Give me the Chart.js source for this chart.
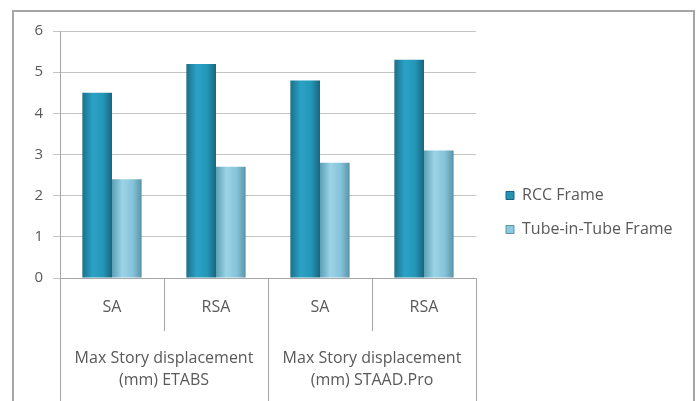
<!DOCTYPE html>
<html><head><meta charset="utf-8">
<script src="https://cdn.jsdelivr.net/npm/chart.js@4"></script>
<style>
html,body{margin:0;padding:0;background:#fff;overflow:hidden;}
#box{position:absolute;left:12px;top:10px;width:679px;height:400px;border:2px solid #a6a6a6;border-bottom:none;}
#box canvas{display:block;}
</style></head><body>
<div id="box"><canvas id="c" width="679" height="400"></canvas></div>
<script>
const subCategories = ['SA', 'RSA', 'SA', 'RSA'];
const groupLabels = [['Max Story displacement', '(mm) ETABS'], ['Max Story displacement', '(mm) STAAD.Pro']];
const seriesNames = ['RCC Frame', 'Tube-in-Tube Frame'];
const rccFrame = [4.5, 5.2, 4.8, 5.3];
const tubeInTube = [2.4, 2.7, 2.8, 3.1];
const yMin = 0, yMax = 6, yStep = 1;

const CAT_PCT = 0.57;
const FAMILY = "'Open Sans', sans-serif";
const TXT = '#595959';
const LINE = '#a6a6a6';

const palettes = [
  ['#1b6f8a', '#2aa3c6', '#2596b8', '#176680'],
  ['#5d9fb6', '#9ad3e6', '#86c4da', '#5a93a8']
];
const solid = ['#2591b3', '#8cc8de'];

function barGrad(dsIndex) {
  return (c) => {
    const chart = c.chart;
    const xs = chart.scales && chart.scales.x;
    if (!xs || c.dataIndex === undefined || !chart.chartArea) return solid[dsIndex];
    const center = xs.getPixelForValue(c.dataIndex);
    const catW = xs.width / subCategories.length;
    const half = catW * CAT_PCT / 2;
    const left = center - half + dsIndex * half;
    const g = chart.ctx.createLinearGradient(left, 0, left + half, 0);
    const p = palettes[dsIndex];
    g.addColorStop(0, p[0]);
    g.addColorStop(0.35, p[1]);
    g.addColorStop(0.7, p[2]);
    g.addColorStop(1, p[3]);
    return g;
  };
}

const legendNudge = {
  id: 'legendNudge',
  afterLayout(chart) {
    const lg = chart.legend;
    if (!lg) return;
    lg.left += 12;
    lg.right = chart.width;
    lg.width = lg.right - lg.left;
    lg.top -= 6;
    lg.bottom -= 6;
  }
};

new Chart(document.getElementById('c'), {
  type: 'bar',
  data: {
    labels: subCategories,
    datasets: [
      {label: seriesNames[0], data: rccFrame, backgroundColor: barGrad(0), borderWidth: 0},
      {label: seriesNames[1], data: tubeInTube, backgroundColor: barGrad(1), borderWidth: 0}
    ]
  },
  plugins: [legendNudge],
  options: {
    responsive: false,
    animation: false,
    devicePixelRatio: 1,
    layout: {padding: {top: 13, right: 63, left: 0, bottom: 0}},
    datasets: {bar: {categoryPercentage: CAT_PCT, barPercentage: 1}},
    plugins: {
      tooltip: {enabled: false},
      legend: {
        position: 'right',
        labels: {
          font: {family: FAMILY, size: 16},
          color: TXT,
          boxWidth: 8,
          boxHeight: 8,
          padding: 18,
          generateLabels: (chart) => {
            const items = Chart.defaults.plugins.legend.labels.generateLabels(chart);
            items.forEach((it, i) => { it.fillStyle = solid[i]; it.strokeStyle = palettes[i][3]; it.lineWidth = 1; });
            return items;
          }
        }
      }
    },
    scales: {
      y: {
        min: yMin, max: yMax,
        ticks: {stepSize: yStep, font: {family: FAMILY, size: 15}, color: TXT, padding: 10},
        grid: {color: '#c4c4c4', tickLength: 7},
        border: {color: LINE},
        afterFit: (s) => { s.width = 46; }
      },
      x: {
        type: 'category',
        position: 'bottom',
        offset: true,
        ticks: {font: {family: FAMILY, size: 16}, color: TXT, padding: -33, maxRotation: 0, autoSkip: false},
        grid: {offset: true, drawOnChartArea: false, tickLength: 53, color: LINE},
        border: {color: LINE},
        afterFit: (s) => { s.height = 53; }
      },
      x2: {
        type: 'category',
        position: 'bottom',
        labels: groupLabels,
        offset: true,
        ticks: {font: {family: FAMILY, size: 16, lineHeight: 1.4}, color: TXT, padding: -74, maxRotation: 0, autoSkip: false},
        grid: {offset: true, drawOnChartArea: false, tickLength: 90, color: LINE},
        border: {display: false},
        afterFit: (s) => { s.height = 81; }
      }
    }
  }
});
</script>
</body></html>
